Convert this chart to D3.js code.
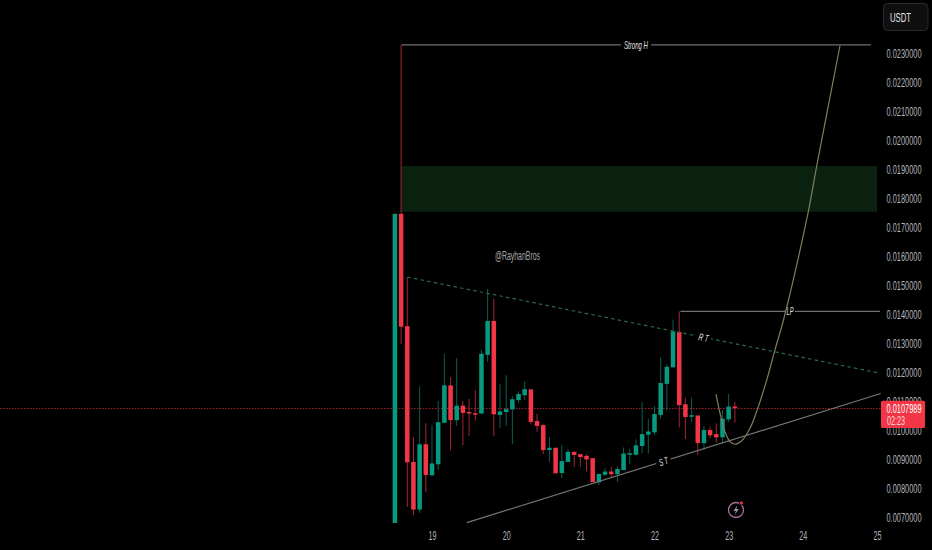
<!DOCTYPE html>
<html><head><meta charset="utf-8">
<script src="https://cdnjs.cloudflare.com/ajax/libs/d3/7.8.5/d3.min.js"></script>
<style>html,body{margin:0;padding:0;background:#000;overflow:hidden}svg{display:block}
text{font-family:"Liberation Sans",sans-serif}</style></head>
<body><svg id="c" width="932" height="550"></svg>
<script>
// prices in thousandths of USDT
const opens=[6.82,17.47,13.60,8.92,7.28,9.53,8.46,8.84,10.27,11.56,10.36,10.86,10.64,10.60,10.59,12.61,13.78,10.54,10.64,10.73,11.05,11.22,11.42,10.33,10.19,9.33,9.41,8.54,8.92,9.27,9.19,9.13,9.05,8.22,8.48,8.59,8.50,8.64,9.17,9.17,9.47,9.86,9.94,10.54,11.61,12.18,13.40,10.91,10.51,10.52,9.57,10.02,9.88,9.77,10.39,10.83];
const closes=[17.47,13.58,8.91,7.28,9.53,8.47,8.87,10.29,11.56,10.36,10.86,10.61,10.60,10.58,12.65,13.78,10.56,10.66,10.74,11.08,11.26,11.43,10.30,10.16,9.33,9.41,8.53,8.95,9.27,9.16,9.09,9.01,8.23,8.51,8.59,8.50,8.68,9.21,9.22,9.49,9.88,9.97,10.57,11.64,12.20,13.42,10.88,10.47,10.53,9.57,10.02,9.84,9.77,10.41,10.83,10.7989];
const highs=[17.47,23.29,15.29,9.78,11.53,10.26,10.19,11.02,12.64,11.84,12.50,11.02,11.09,11.40,12.78,14.88,14.54,11.60,11.91,11.19,11.36,11.70,11.43,10.57,10.22,9.78,9.41,9.50,9.36,9.27,9.19,9.18,9.05,8.51,8.71,8.75,8.78,9.42,9.36,9.70,10.99,10.41,10.84,12.53,12.28,13.83,14.11,11.13,11.14,10.52,10.16,10.13,10.25,10.71,11.26,10.99];
const lows=[6.82,12.98,7.37,7.09,7.17,7.88,8.46,8.64,10.27,9.33,10.16,9.50,9.82,10.34,10.59,12.37,9.81,10.09,10.16,9.53,10.96,11.05,10.22,9.96,9.19,8.92,8.53,8.37,8.92,8.75,8.75,8.60,8.23,8.12,8.44,8.39,8.23,8.64,8.84,9.13,9.23,9.21,9.84,10.41,10.71,12.18,10.11,9.71,10.30,9.16,9.33,9.74,9.59,9.56,10.30,10.27];
const firstCandleDay=18.5, candleStepDay=1/12;
const priceTicks=[7,8,9,10,11,12,13,14,15,16,17,18,19,20,21,22,23];
const dayTicks=[19,20,21,22,23,24,25];
const lastPrice=10.7989, lastLabel="0.0107989", countdown="02:23";
const zone={d0:18.585,d1:25,p0:17.54,p1:19.115};
const strongH={d0:18.59,d1:24.92,p:23.29};
const lpLine={d0:22.35,d1:25.04,p:14.11};
const resistance=[[18.67,15.29],[25,12.0]];
const support=[[19.47,6.83],[25.05,11.28]];
const projDays=[22.829,22.883,22.95,23.018,23.085,23.176,23.288,23.399,23.513,23.624,23.746,24.073,24.187,24.501];
const projPrices=[11.26,10.61,9.96,9.62,9.53,9.65,10.08,10.82,11.74,12.78,13.88,17.54,19.11,23.26];

const FONT='"Liberation Sans",sans-serif';
const svg=d3.select("#c");
const x=d3.scaleLinear().domain([19,25]).range([432,877]);
const y=d3.scaleLinear().domain([7,23]).range([517.7,53.3]);
const cx=i=>x(firstCandleDay+i*candleStepDay);
// squeeze a text horizontally to the given pixel width, about its own anchor
const fit=(node,w,px,py,rot)=>{
 const sx=w/node.getComputedTextLength();
 node.setAttribute("transform",`translate(${px},${py}) rotate(${rot||0}) scale(${sx},1)`);
};
const txt=(t,px,py,w,size,fill,anchor,italic,rot)=>{
 const s=svg.append("text").attr("text-anchor",anchor||"middle").attr("dy","0.35em")
  .attr("fill",fill).attr("font-size",size).attr("font-style",italic?"italic":null).text(t);
 fit(s.node(),w,px,py,rot);return s;
};

// zone
svg.append("rect").attr("x",x(zone.d0)).attr("width",x(zone.d1)-x(zone.d0))
 .attr("y",y(zone.p1)).attr("height",y(zone.p0)-y(zone.p1)).attr("fill","#0b2210");

// last price line
const lastY=Math.ceil(y(lastPrice))+0.5;
svg.append("line").attr("x1",0).attr("x2",881).attr("y1",lastY).attr("y2",lastY)
 .attr("stroke","#a4202b").attr("stroke-width",1).attr("stroke-dasharray","1.5 1.5");

// candles
const g=svg.append("g");
opens.forEach((o,i)=>{
 const c=closes[i],up=c>=o,col=up?"#089981":"#f23645",wick=up?"#0a5f51":"#a32733";
 g.append("line").attr("x1",cx(i)).attr("x2",cx(i)).attr("y1",y(highs[i])).attr("y2",y(lows[i]))
  .attr("stroke",wick).attr("stroke-width",1);
 const top=y(Math.max(o,c)),bot=y(Math.min(o,c));
 g.append("rect").attr("x",cx(i)-2.25).attr("width",4.5).attr("y",top).attr("height",Math.max(bot-top,1.5)).attr("fill",col);
});

// drawings
const ln=(x1,y1,x2,y2,col,w,dash)=>svg.append("line").attr("x1",x1).attr("y1",y1).attr("x2",x2).attr("y2",y2)
 .attr("stroke",col).attr("stroke-width",w||1).attr("stroke-dasharray",dash||null);
ln(x(strongH.d0),y(strongH.p),x(strongH.d1),y(strongH.p),"#6f6f6f",1.1);
ln(x(lpLine.d0),y(lpLine.p),x(lpLine.d1),y(lpLine.p),"#6f6f6f",1.1);
ln(x(resistance[0][0]),y(resistance[0][1]),x(resistance[1][0]),y(resistance[1][1]),"#2a6b45",1.2,"3.5 3.2");
ln(x(support[0][0]),y(support[0][1]),x(support[1][0]),y(support[1][1]),"#767676",1.2);

// drawing labels
const gap=(px,py,w,rot)=>svg.append("rect").attr("x",-w/2).attr("y",-4).attr("width",w).attr("height",8).attr("fill","#000")
 .attr("transform",`translate(${px},${py}) rotate(${rot||0})`);
gap(636,45,30);
gap(703.5,337.5,15,11.5);
gap(663.5,461.5,15,-17.3);
gap(790,311,10);
svg.append("path").attr("fill","none").attr("stroke","#7f7e5f").attr("stroke-width",1.2)
 .attr("d",d3.line().curve(d3.curveCatmullRom).x((d,i)=>x(projDays[i])).y(d=>y(d))(projPrices));
txt("Strong H",636,45.5,24,10,"#e0e0e0","middle",true);
txt("R T",703.5,337.5,10,10,"#e0e0e0","middle",true,11.5);
txt("S T",663.5,461.5,9,10,"#e0e0e0","middle",true,-17.3);
txt("LP",790,311,7,10,"#e0e0e0","middle",true);
txt("@RayhanBros",517.5,255.5,45,12,"#a9a9a9");

// axes
const yAxis=d3.axisRight(y).tickValues(priceTicks).tickSize(0).tickPadding(0)
 .tickFormat(d=>(d/1000).toFixed(7));
const ya=svg.append("g").attr("transform","translate(904,0)").call(yAxis);
const xAxis=d3.axisBottom(x).tickValues(dayTicks).tickSize(0).tickPadding(0).tickFormat(d3.format("d"));
const xa=svg.append("g").attr("transform","translate(0,531)").call(xAxis);
[ya,xa].forEach(a=>{a.select(".domain").remove();
 a.selectAll("text").attr("fill","#b2b5be").attr("font-size",12).style("font-family",FONT);});
ya.selectAll("text").attr("text-anchor","middle").each(function(){fit(this,35,0,0);});
xa.selectAll("text").attr("text-anchor","middle").each(function(){fit(this,8,0,0);});

// price tag
svg.append("rect").attr("x",881).attr("y",400.7).attr("width",44).attr("height",27.3).attr("rx",1.5).attr("fill","#f23645");
txt(lastLabel,904,408.5,35,12,"#fff");
txt(countdown,887,421,18,12,"#ffd5d9","start");

// USDT button
svg.append("rect").attr("x",883.5).attr("y",3.5).attr("width",44.5).attr("height",27).attr("rx",4).attr("fill","#0f0f0f").attr("stroke","#2a2a2a");
txt("USDT",900.5,17,21,13,"#e0e3eb");

// bolt icon
const ic=svg.append("g").attr("transform","translate(736,510)");
ic.append("circle").attr("r",7.5).attr("fill","#000").attr("stroke","#a8709c").attr("stroke-width",1.3);
ic.append("path").attr("d","M1.5,-5 L-2.5,1 L0,1 L-1.5,5 L2.8,-1 L0.3,-1 Z").attr("fill","#9a9aa2");
ic.append("circle").attr("cx",5.3).attr("cy",-7).attr("r",2).attr("fill","#f23645").attr("stroke","#000").attr("stroke-width",0.8);
</script></body></html>
